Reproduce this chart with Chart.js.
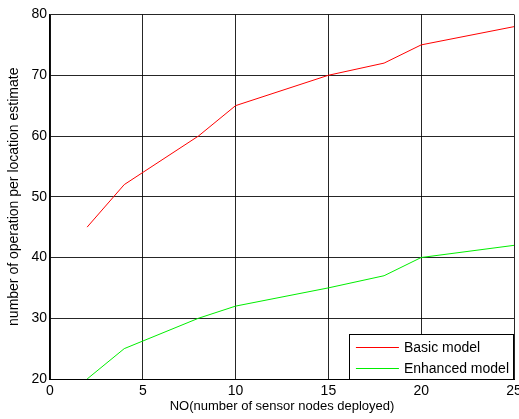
<!DOCTYPE html>
<html>
<head>
<meta charset="utf-8">
<script src="https://cdn.jsdelivr.net/npm/chart.js@4.4.0/dist/chart.umd.min.js"></script>
<style>
  html, body { margin: 0; padding: 0; background: #fff; }
  canvas { display: block; }
</style>
</head>
<body>
<canvas id="chart" width="519" height="419"></canvas>
<script>
// Data
const nodeCounts = [2, 4, 8, 10, 15, 18, 20, 25];
const basicModel = [45, 52, 60, 65, 70, 72, 75, 78];
const enhancedModel = [20, 25, 30, 32, 35, 37, 40, 42];
const seriesLabels = ['Basic model', 'Enhanced model'];
const xTicks = [0, 5, 10, 15, 20, 25];
const yTicks = [20, 30, 40, 50, 60, 70, 80];

const FONT = '"Liberation Sans", Arial, sans-serif';
const basicColor = '#ff0000';
const enhancedColor = '#00ee00';
const gridColor = 'rgba(0, 0, 0, 0.85)';

const toPoints = ys => nodeCounts.map((x, i) => ({ x, y: ys[i] }));

// Legend box drawn inside the plot, bottom right, like the MATLAB one
const boxLegend = {
  id: 'boxLegend',
  afterDatasetsDraw(chart) {
    const { ctx, chartArea } = chart;
    const sets = chart.data.datasets;
    ctx.save();
    ctx.font = '14px ' + FONT;
    const textW = Math.max(...sets.map(d => ctx.measureText(d.label).width));
    const lineLen = 43, padL = 7, gap = 5, padR = 4, rowH = 21;
    const w = padL + lineLen + gap + textW + padR;
    const h = rowH * sets.length + 3;
    const x0 = chartArea.right - w - 1;
    const y0 = chartArea.bottom - h;
    ctx.fillStyle = '#fff';
    ctx.fillRect(x0, y0, w, h);
    ctx.strokeStyle = '#000';
    ctx.lineWidth = 1;
    ctx.strokeRect(Math.round(x0) + 0.5, Math.round(y0) + 0.5, Math.round(w), Math.round(h));
    sets.forEach((d, i) => {
      const cy = y0 + 13 + i * rowH;
      ctx.strokeStyle = d.borderColor;
      ctx.beginPath();
      ctx.moveTo(x0 + padL, Math.round(cy) + 0.5);
      ctx.lineTo(x0 + padL + lineLen, Math.round(cy) + 0.5);
      ctx.stroke();
      ctx.fillStyle = '#000';
      ctx.textBaseline = 'middle';
      ctx.fillText(d.label, x0 + padL + lineLen + gap, cy + 1);
    });
    ctx.restore();
  }
};

new Chart(document.getElementById('chart').getContext('2d'), {
  type: 'line',
  data: {
    datasets: [
      {
        label: seriesLabels[0],
        data: toPoints(basicModel),
        borderColor: basicColor,
        borderWidth: 1,
        pointRadius: 0,
        tension: 0,
        fill: false
      },
      {
        label: seriesLabels[1],
        data: toPoints(enhancedModel),
        borderColor: enhancedColor,
        borderWidth: 1,
        pointRadius: 0,
        tension: 0,
        fill: false
      }
    ]
  },
  options: {
    responsive: false,
    animation: false,
    layout: { padding: { top: 14.5, right: 5, left: 0, bottom: 0 } },
    plugins: {
      legend: { display: false },
      tooltip: { enabled: false }
    },
    scales: {
      x: {
        type: 'linear',
        min: 0,
        max: 25,
        afterBuildTicks: s => { s.ticks = xTicks.map(v => ({ value: v })); },
        afterFit: s => { s.height = 40; s.paddingLeft = 0; s.paddingRight = 0; },
        grid: { color: gridColor, lineWidth: 1, drawTicks: false },
        border: { color: '#000', width: 1 },
        ticks: {
          color: '#000',
          padding: 4,
          maxRotation: 0,
          font: { family: FONT, size: 14 }
        },
        title: {
          display: true,
          text: 'NO(number of sensor nodes deployed)',
          color: '#000',
          font: { family: FONT, size: 13 },
          padding: { top: 0, bottom: 5 }
        }
      },
      y: {
        min: 20,
        max: 80,
        afterBuildTicks: s => { s.ticks = yTicks.map(v => ({ value: v })); },
        afterFit: s => { s.width = 50; s.paddingTop = 0; s.paddingBottom = 0; },
        grid: { color: gridColor, lineWidth: 1, drawTicks: false },
        border: { color: '#000', width: 1.5 },
        ticks: {
          color: '#000',
          padding: 3,
          font: { family: FONT, size: 14 }
        },
        title: {
          display: true,
          text: 'number of operation per location estimate',
          color: '#000',
          font: { family: FONT, size: 14 },
          padding: { top: 6, bottom: 0 }
        }
      }
    }
  },
  plugins: [boxLegend]
});
</script>
</body>
</html>
